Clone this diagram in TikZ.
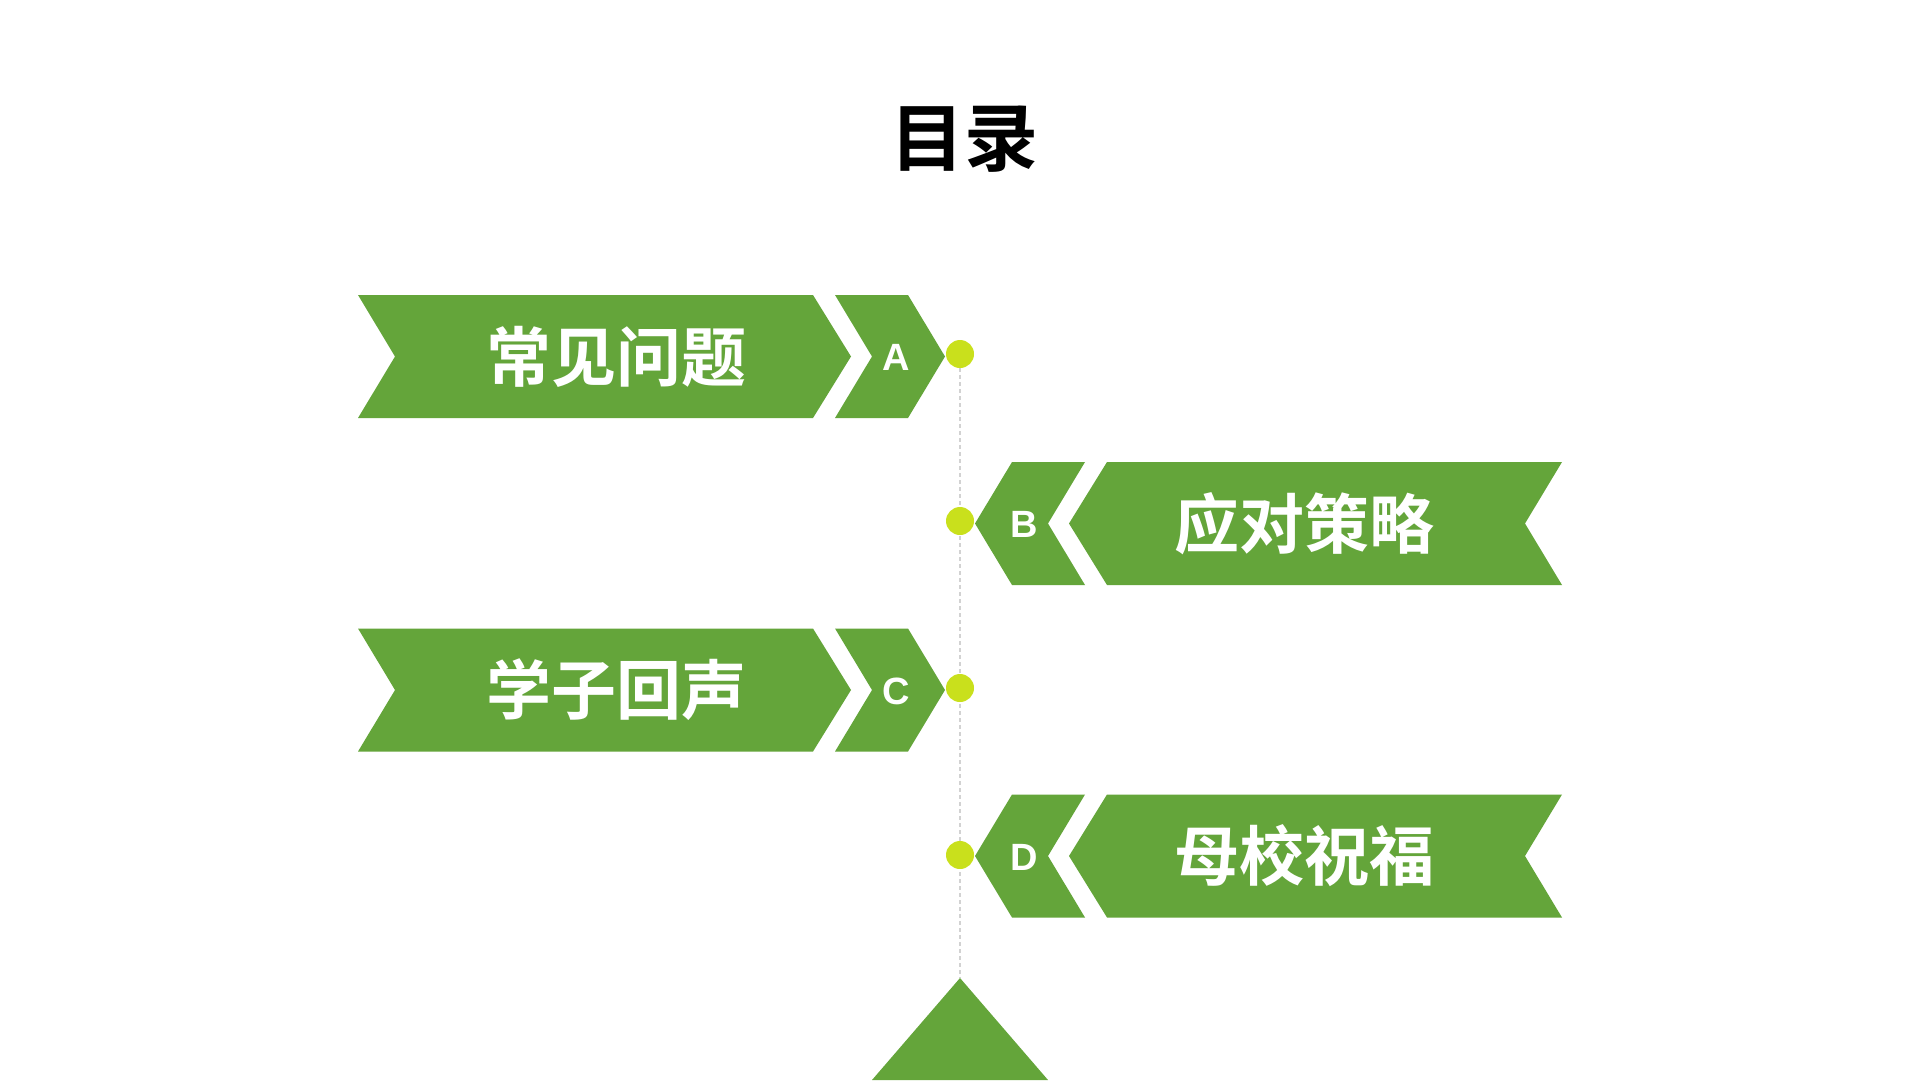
\documentclass[tikz,border=0pt]{standalone}
\usepackage{fontspec}
\setmainfont{Liberation Sans}
\newfontfamily\cjk{Noto Sans CJK SC Bold}
\definecolor{bgreen}{HTML}{64A53A}
\definecolor{dotgreen}{HTML}{C9E01C}
\definecolor{lgray}{HTML}{D2D2D2}
\begin{document}
\begin{tikzpicture}[x=1pt,y=-1pt,
  banner/.style={fill=bgreen,draw=none},
  dotnode/.style={circle,fill=dotgreen,draw=none,minimum size=28pt,inner sep=0pt},
  bantext/.style={text=white,font=\cjk\fontsize{65}{65}\selectfont,inner sep=0pt},
  lettext/.style={text=white,font=\bfseries\fontsize{38}{38}\selectfont,inner sep=0pt},
  titletext/.style={text=black,font=\cjk\fontsize{74}{74}\selectfont,inner sep=0pt},
  guide/.style={draw=lgray,line width=2pt,dash pattern=on 4pt off 3pt}]
\useasboundingbox (0,0) rectangle (1920,1080);
\fill[white] (0,0) rectangle (1920,1080);
\node[titletext] (title) at (964,139) {目录};
% left banners (A, C)
\foreach \c/\t/\l/\n in {356.5/常见问题/A/a, 690/学子回声/C/c}{
  \fill[banner] (358,\c-61.5) -- (813,\c-61.5) -- (851,\c) -- (813,\c+61.5) -- (358,\c+61.5) -- (395,\c) -- cycle;
  \fill[banner] (835,\c-61.5) -- (908,\c-61.5) -- (945,\c) -- (908,\c+61.5) -- (835,\c+61.5) -- (872,\c) -- cycle;
  \node[bantext] (txt\n) at (616,\c) {\t};
  \node[lettext] (let\n) at (896,\c+1) {\l};
}
% right banners (B, D)
\foreach \c/\t/\l/\n in {523.5/应对策略/B/b, 856/母校祝福/D/d}{
  \fill[banner] (1562,\c-61.5) -- (1107,\c-61.5) -- (1069,\c) -- (1107,\c+61.5) -- (1562,\c+61.5) -- (1525,\c) -- cycle;
  \fill[banner] (1085,\c-61.5) -- (1012,\c-61.5) -- (975,\c) -- (1012,\c+61.5) -- (1085,\c+61.5) -- (1048,\c) -- cycle;
  \node[bantext] (txt\n) at (1304,\c) {\t};
  \node[lettext] (let\n) at (1024,\c+1) {\l};
}
\coordinate (apex) at (960,978);
\draw[guide] (960,354) -- (apex);
\node[dotnode] (dota) at (960,354) {};
\node[dotnode] (dotb) at (960,521) {};
\node[dotnode] (dotc) at (960,688) {};
\node[dotnode] (dotd) at (960,855) {};
\fill[banner] (apex) -- (1048,1080) -- (872,1080) -- cycle;
\end{tikzpicture}
\end{document}
